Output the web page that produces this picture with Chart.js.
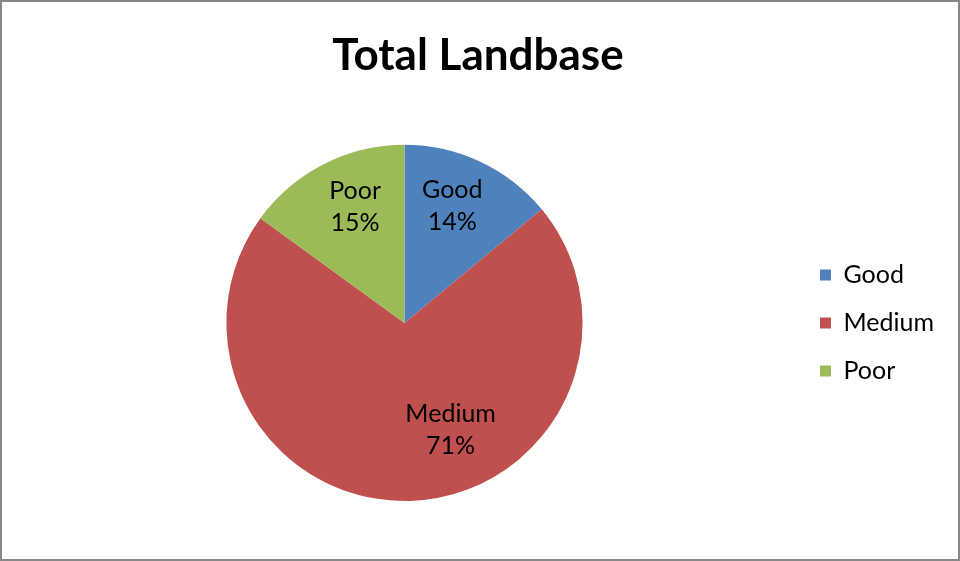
<!DOCTYPE html>
<html lang="en">
<head>
    <meta charset="UTF-8">
    <title>Total Landbase</title>
    <script src="https://cdn.jsdelivr.net/npm/chart.js"></script>
    <style>
        body { margin: 0; background: #fff; }
        #frame { position: absolute; left: 0; top: 0; width: 960px; height: 561px; box-sizing: border-box; border: 2px solid #878787; }
        #chart_land { position: absolute; left: 0; top: 0; }
    </style>
</head>
<body>
    <div id="frame"></div>
    <canvas id="chart_land" width="960" height="561"></canvas>

    <script>
        // chart data
        const categories = ['Good', 'Medium', 'Poor'];
        const shares = [14, 71, 15];
        const colors = ['#4F81BD', '#C0504D', '#9BBB59'];

        // draws "name / pct%" inside each slice
        const sliceLabels = {
            id: 'sliceLabels',
            afterDatasetsDraw(chart, args, opts) {
                const ctx = chart.ctx;
                const meta = chart.getDatasetMeta(0);
                const total = shares.reduce((a, b) => a + b, 0);
                ctx.save();
                ctx.font = '25px Lato';
                ctx.fillStyle = '#000';
                ctx.textAlign = 'center';
                ctx.textBaseline = 'middle';
                meta.data.forEach((arc, i) => {
                    const p = arc.getProps(['x', 'y', 'startAngle', 'endAngle', 'outerRadius'], true);
                    const mid = (p.startAngle + p.endAngle) / 2 + opts.shift[i] * Math.PI / 180;
                    const r = p.outerRadius * opts.frac[i];
                    const x = p.x + Math.cos(mid) * r;
                    const y = p.y + Math.sin(mid) * r;
                    const pct = Math.round(shares[i] / total * 100) + '%';
                    ctx.fillText(categories[i], x, y - 16);
                    ctx.fillText(pct, x, y + 16);
                });
                ctx.restore();
            }
        };

        const ctx = document.getElementById('chart_land').getContext('2d');
        new Chart(ctx, {
            type: 'pie',
            data: {
                labels: categories,
                datasets: [{
                    data: shares,
                    backgroundColor: colors,
                    borderWidth: 0
                }]
            },
            options: {
                responsive: false,
                animation: false,
                devicePixelRatio: 1,
                layout: { padding: { left: 12, right: 16, top: 0, bottom: 60 } },
                plugins: {
                    title: {
                        display: true,
                        text: 'Total Landbase',
                        color: '#000',
                        font: { family: 'Lato', size: 44, weight: 'bold', lineHeight: 1.2 },
                        padding: { top: 29, bottom: 63 }
                    },
                    legend: {
                        position: 'right',
                        fullSize: false,
                        labels: {
                            color: '#000',
                            font: { family: 'Lato', size: 25 },
                            boxWidth: 11,
                            boxHeight: 11,
                            padding: 23
                        }
                    },
                    tooltip: { enabled: false },
                    sliceLabels: { frac: [0.71, 0.655, 0.71], shift: [-3, -21.5, 4] }
                }
            },
            plugins: [sliceLabels]
        });
    </script>
</body>
</html>
